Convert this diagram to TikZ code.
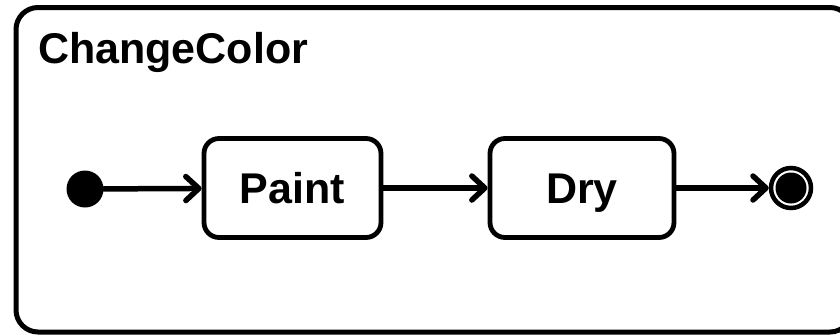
\documentclass[tikz,border=0pt]{standalone}
\usepackage{fontspec}
\setsansfont{Liberation Sans}
\usetikzlibrary{arrows.meta}

\begin{document}
\begin{tikzpicture}[x=1pt, y=-1pt,
    label font/.style={font=\sffamily\bfseries\fontsize{43}{48}\selectfont},
    frame/.style={draw, line width=5pt, rounded corners=22pt},
    state/.style={draw, line width=4.8pt, rounded corners=15pt, inner sep=0pt, minimum height=99pt,
                  text height=31pt, text depth=0pt, label font},
    initial/.style={circle, fill, inner sep=0pt, minimum size=37pt},
    final/.style={circle, draw, line width=4.5pt, inner sep=0pt, minimum size=40pt},
    trans/.style={line width=5.5pt, line cap=round, -{Straight Barb[length=13pt, width=24pt, line join=round, line cap=round]}}]
    \useasboundingbox (0,0) rectangle (840,335);
    \clip (0,0) rectangle (840,335);

    % composite state frame, runs off the right edge
    \draw[frame] (16,7.5) rectangle (852,332);
    \node[label font, anchor=base west, inner sep=0pt] (title) at (38,63) {ChangeColor};

    % pseudo states and substates
    \node[initial] (init) at (85,189) {};
    \node[state, minimum width=177pt] (paint) at (292.5,188) {Paint};
    \node[state, minimum width=184pt] (dry) at (582,188) {Dry};
    \node[final] (final) at (791,188) {};
    \fill (final.center) circle (15.5);

    % transitions
    \draw[trans] (init) -- (paint);
    \draw[trans] (paint) -- (dry);
    \draw[trans] (dry) -- (final);
\end{tikzpicture}
\end{document}
